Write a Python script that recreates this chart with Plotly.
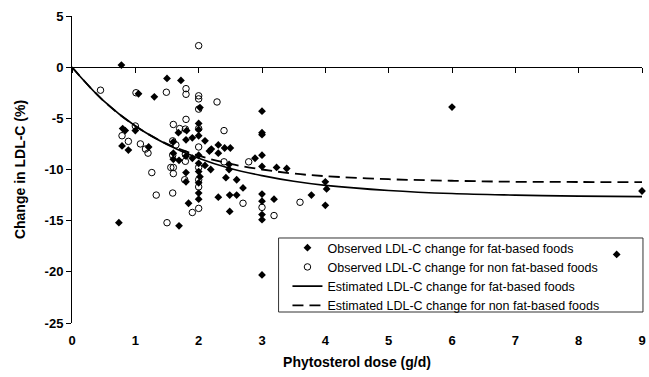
import plotly.graph_objects as go

# Observed LDL-C change for fat-based foods (filled diamonds)
fat_x = [0.78, 0.74, 1.50, 1.72, 1.30, 1.05, 2.02, 3.00, 3.00, 3.00,
         0.80, 0.84, 1.00, 0.79, 0.89, 1.21, 1.60, 1.68, 1.81, 1.80,
         1.90, 2.00, 2.00, 2.00, 2.10, 2.17, 2.20, 2.31, 2.31, 2.41,
         2.50, 2.89, 3.00, 3.00, 3.23, 3.39, 1.60, 1.60, 1.69, 1.80,
         1.90, 2.00, 2.00, 2.10, 2.19, 2.48, 2.48, 2.43, 2.60, 2.70,
         1.80, 1.80, 2.00, 2.02, 2.00, 2.00, 2.00, 2.31, 2.49, 2.60,
         2.49, 1.84, 1.69, 3.00, 3.00, 3.00, 3.00, 3.00, 3.19, 3.78,
         4.00, 4.02, 4.00, 6.00, 9.00, 8.60]
fat_y = [0.2, -15.2, -1.1, -1.3, -2.9, -2.6, -3.95, -4.3, -6.4, -6.6,
         -6.0, -6.2, -6.2, -7.7, -8.1, -7.8, -7.3, -6.4, -6.2, -7.1,
         -6.9, -5.5, -6.1, -6.7, -7.2, -8.2, -8.0, -7.6, -8.4, -7.9,
         -7.9, -8.9, -8.6, -9.7, -9.8, -9.9, -8.4, -9.0, -9.1, -8.7,
         -8.9, -8.6, -9.4, -9.6, -10.0, -9.5, -10.0, -10.8, -11.0, -11.8,
         -10.3, -11.2, -10.2, -10.7, -11.3, -12.3, -12.9, -12.7, -12.5, -12.5,
         -14.1, -13.3, -15.5, -12.4, -13.1, -14.4, -14.9, -20.3, -12.9, -12.5,
         -11.2, -11.9, -13.5, -3.9, -12.1, -18.3]

# Observed LDL-C change for non fat-based foods (open circles)
nonfat_x = [0.45, 1.01, 1.49, 1.80, 1.80, 2.00, 2.00, 2.00, 2.29, 2.00,
            1.00, 1.80, 1.60, 1.70, 2.00, 2.40, 0.79, 0.89, 1.08, 1.16,
            1.20, 1.59, 1.64, 1.79, 2.00, 1.79, 2.40, 2.79, 1.26, 1.56,
            1.60, 1.60, 1.59, 1.78, 2.00, 2.00, 2.00, 1.59, 1.33, 1.50,
            1.90, 2.00, 2.70, 3.00, 3.19, 3.60, 1.79]
nonfat_y = [-2.25, -2.5, -2.45, -2.1, -2.65, -2.8, -3.1, -4.1, -3.4, 2.1,
            -5.75, -5.1, -5.6, -6.0, -6.0, -6.2, -6.7, -7.25, -7.5, -8.0,
            -8.4, -7.2, -7.6, -8.5, -7.8, -9.2, -9.25, -9.25, -10.3, -9.8,
            -9.8, -10.4, -8.6, -11.0, -9.8, -11.0, -11.7, -12.3, -12.5, -15.2,
            -14.2, -13.8, -13.3, -13.7, -14.5, -13.2, -6.05]

# Estimated curves
curve_x = [0, 0.5, 1, 1.5, 2, 2.5, 3, 3.5, 4, 5, 6, 7, 8, 9]
est_fat_y = [0, -3.3, -5.75, -7.55, -8.9, -9.9, -10.6, -11.15, -11.55,
             -12.05, -12.35, -12.5, -12.6, -12.65]
est_nonfat_y = [0, -3.3, -5.75, -7.5, -8.65, -9.45, -10.0, -10.4, -10.65,
                -10.95, -11.1, -11.2, -11.22, -11.24]

x_ticks = [0, 1, 2, 3, 4, 5, 6, 7, 8, 9]
y_ticks = [5, 0, -5, -10, -15, -20, -25]

FONT = "Arial, Liberation Sans, sans-serif"

fig = go.Figure()
fig.add_trace(go.Scatter(
    x=fat_x, y=fat_y, mode="markers",
    name="Observed LDL-C change for fat-based foods",
    marker=dict(symbol="diamond", size=6, color="black"),
    cliponaxis=False))
fig.add_trace(go.Scatter(
    x=nonfat_x, y=nonfat_y, mode="markers",
    name="Observed LDL-C change for non fat-based foods",
    marker=dict(symbol="circle-open", size=6.5, color="black",
                line=dict(width=1, color="black")),
    cliponaxis=False))
fig.add_trace(go.Scatter(
    x=curve_x, y=est_fat_y, mode="lines", xaxis="x2",
    name="Estimated LDL-C change for fat-based foods",
    line=dict(color="black", width=1.6, shape="spline")))
fig.add_trace(go.Scatter(
    x=curve_x, y=est_nonfat_y, mode="lines", xaxis="x2",
    name="Estimated LDL-C change for non fat-based foods",
    line=dict(color="black", width=1.8, dash="11px,6px", shape="spline")))

# legend frame (paper coordinates)
fig.add_shape(type="rect", xref="paper", yref="paper",
              x0=0.3624, x1=1.0017, y0=0.0358, y1=0.2769,
              line=dict(color="#333333", width=1), fillcolor="white",
              layer="below")

fig.update_layout(
    width=649, height=377,
    margin=dict(l=72, r=3, t=16, b=54),
    paper_bgcolor="white", plot_bgcolor="white",
    font=dict(family=FONT, color="black"),
    showlegend=True,
    legend=dict(
        x=0.378, y=0.293, xanchor="left", yanchor="top",
        bgcolor="rgba(0,0,0,0)", borderwidth=0,
        font=dict(size=12.5, family=FONT, color="black"),
        tracegroupgap=0, itemwidth=30,
    ),
    xaxis=dict(
        range=[0, 9], tickvals=x_ticks, ticktext=[str(v) for v in x_ticks],
        showgrid=False, zeroline=False, showline=False,
        ticks="outside", ticklen=5, tickcolor="rgba(0,0,0,0)",
        ticklabeloverflow="allow",
        tickfont=dict(size=13, weight="bold", family=FONT),
        title=dict(text="Phytosterol dose (g/d)", standoff=10,
                   font=dict(size=14, weight="bold", family=FONT)),
    ),
    xaxis2=dict(
        range=[0, 9], matches="x", overlaying="x", anchor="free",
        position=25 / 30, tickvals=x_ticks, showticklabels=False,
        showgrid=False, zeroline=False, showline=True,
        linecolor="black", linewidth=1,
        ticks="outside", ticklen=5, tickcolor="black", tickwidth=1,
    ),
    yaxis=dict(
        range=[-25, 5], tickvals=y_ticks, ticktext=[str(v) for v in y_ticks],
        showgrid=False, zeroline=False, showline=True,
        linecolor="black", linewidth=1,
        ticks="outside", ticklen=5, tickcolor="black",
        tickfont=dict(size=13, weight="bold", family=FONT),
        title=dict(text="Change in LDL-C (%)", standoff=15,
                   font=dict(size=14, weight="bold", family=FONT)),
    ),
)

fig.write_html(
    "out.html",
    config={"displayModeBar": False},
    post_script="document.body.style.margin='0';document.body.style.overflow='hidden';",
)
